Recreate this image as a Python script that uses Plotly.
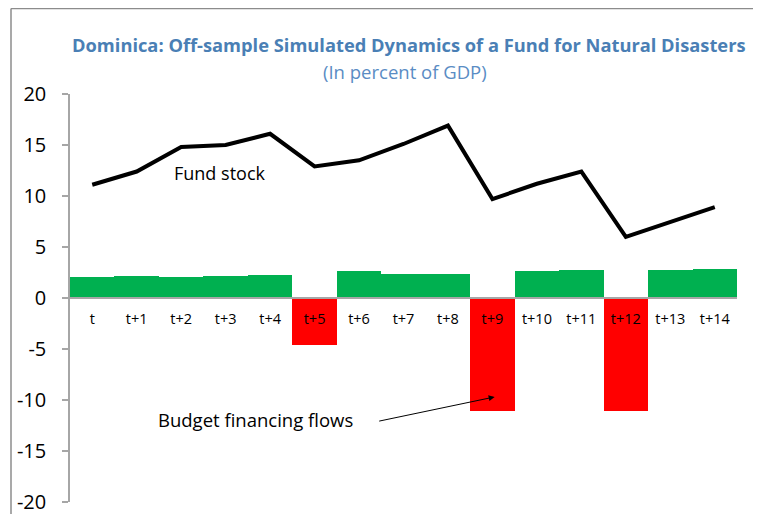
import plotly.graph_objects as go

categories = ["t", "t+1", "t+2", "t+3", "t+4", "t+5", "t+6", "t+7",
              "t+8", "t+9", "t+10", "t+11", "t+12", "t+13", "t+14"]
fund_stock = [11.1, 12.4, 14.8, 15.0, 16.1, 12.9, 13.5, 15.1,
              16.9, 9.7, 11.2, 12.4, 6.0, 7.5, 8.9]
budget_flows = [2.05, 2.2, 2.05, 2.2, 2.3, -4.6, 2.6, 2.4,
                2.4, -11.1, 2.6, 2.75, -11.1, 2.75, 2.85]
y_ticks = [20, 15, 10, 5, 0, -5, -10, -15, -20]
y_tick_labels = ["20", "15", "10", "5", "0", "-5", "-10", "-15", "-20"]

GREEN = "#00b050"
RED = "#ff0000"
AXIS_GREY = "#a6a6a6"
FRAME_GREY = "#8c8c8c"
FONT = "Open Sans"

bar_colors = [GREEN if v >= 0 else RED for v in budget_flows]

fig = go.Figure()
fig.add_trace(go.Bar(x=categories, y=budget_flows, marker_color=bar_colors,
                     marker_line_width=0, name="Budget financing flows"))
fig.add_trace(go.Scatter(x=categories, y=fund_stock, mode="lines",
                         line=dict(color="black", width=4), name="Fund stock"))

# frame edges in paper coords (plot area spans 70..737 px wide, 94..502 px high)
frame_left = (11 - 70) / 667
frame_top = 1.0 + (94 - 8.5) / 408

# the page body adds an 8px offset, margins below account for it
fig.update_layout(
    width=761, height=514,
    margin=dict(l=62, r=32, t=86, b=20),
    paper_bgcolor="white", plot_bgcolor="white",
    showlegend=False, bargap=0,
    font=dict(family=FONT, color="black"),
    annotations=[
        dict(text="<b>Dominica: Off-sample Simulated Dynamics of a Fund for Natural Disasters</b>",
             xref="paper", yref="paper", x=0.508, y=1.0 + (94 - 45) / 408, xanchor="center",
             yanchor="middle", showarrow=False, font=dict(size=18.3, color="#4a7fb5")),
        dict(text="(In percent of GDP)", xref="paper", yref="paper", x=0.502,
             y=1.0 + (94 - 72) / 408, xanchor="center", yanchor="middle", showarrow=False,
             font=dict(size=18.5, color="#5a8cc4")),
        dict(text="Fund stock", x=2.88, y=12.3, xref="x", yref="y", showarrow=False,
             font=dict(size=18)),
        dict(text="Budget financing flows", x=3.67, y=-11.9, xref="x", yref="y",
             showarrow=False, font=dict(size=18.5)),
        dict(x=9.05, y=-9.7, ax=6.42, ay=-12.1, xref="x", yref="y", axref="x", ayref="y",
             text="", showarrow=True, arrowhead=2, arrowsize=1.2, arrowwidth=1,
             arrowcolor="black"),
    ],
    shapes=[
        # outer chart frame, only the left and top edges are inside the crop
        dict(type="line", xref="paper", yref="paper", x0=frame_left, x1=frame_left,
             y0=-0.2, y1=frame_top, line=dict(color=FRAME_GREY, width=1.5)),
        dict(type="line", xref="paper", yref="paper", x0=frame_left, x1=1.3,
             y0=frame_top, y1=frame_top, line=dict(color=FRAME_GREY, width=1.5)),
    ],
)

fig.update_xaxes(
    type="category", anchor="free", position=0.5, automargin=False,
    showline=True, linecolor=AXIS_GREY, linewidth=1.5,
    ticks="", showgrid=False, zeroline=False,
    tickfont=dict(size=14.5, color="black"), ticklabelstandoff=8,
)
fig.update_yaxes(
    range=[-20, 20], tickvals=y_ticks, ticktext=y_tick_labels, automargin=False,
    showgrid=False, zeroline=False,
    showline=True, linecolor=AXIS_GREY, linewidth=1.5,
    ticks="outside", ticklen=6, tickcolor=AXIS_GREY, tickwidth=1.5,
    tickfont=dict(size=20, color="black"), ticklabelstandoff=12,
)

# hide the page scrollbars caused by the body offset
fig.write_html("out.html", post_script="document.documentElement.style.overflow = 'hidden';")
